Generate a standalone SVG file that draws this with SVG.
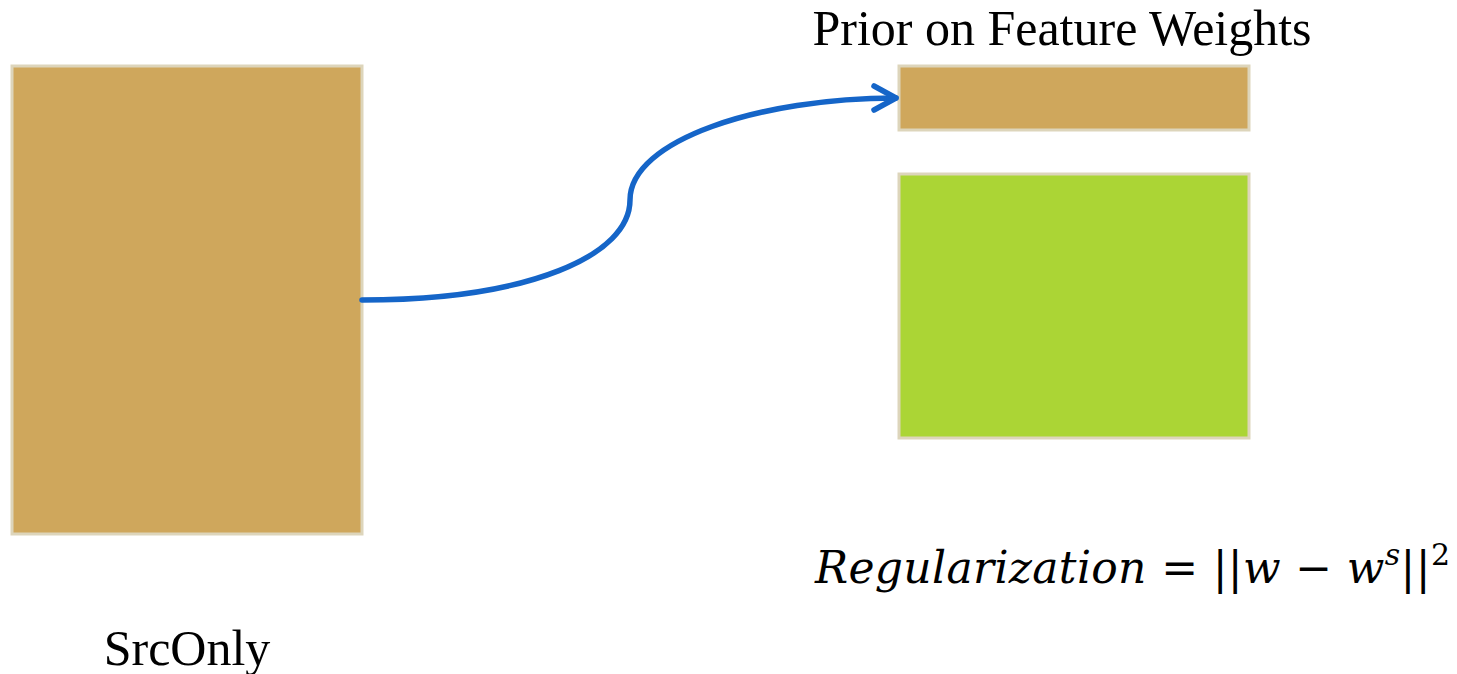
<svg xmlns="http://www.w3.org/2000/svg" width="1457" height="674" viewBox="0 0 1457 674">
<style>
.box{stroke:#ddd5bb;stroke-width:3}
.tan{fill:#cfa75c}
.green{fill:#abd535}
.lbl{font-family:"Liberation Serif",serif;font-size:50px;fill:#000}
.math{font-family:"DejaVu Serif","Liberation Serif",serif;font-size:44px;fill:#000}
.conn{fill:none;stroke:#1565c8;stroke-width:5.5;stroke-linecap:round;stroke-linejoin:round}
</style>
<rect width="1457" height="674" fill="#fff"/>
<g id="srconly">
<rect class="box tan" x="12" y="66" width="350" height="468"/>
<text class="lbl" x="187" y="665" text-anchor="middle">SrcOnly</text>
</g>
<g id="prior">
<rect class="box tan" x="899" y="66" width="350" height="64"/>
<text class="lbl" x="1062" y="45" text-anchor="middle">Prior on Feature Weights</text>
</g>
<g id="target">
<rect class="box green" x="899" y="174" width="350" height="264"/>
</g>
<g id="formula">
<text class="math" x="815" y="583" textLength="635" lengthAdjust="spacing"><tspan font-style="italic">Regularization</tspan> =  ||<tspan font-style="italic">w</tspan> − <tspan font-style="italic">w</tspan><tspan font-style="italic" font-size="30" dy="-18">s</tspan><tspan dy="18">||</tspan><tspan font-size="30" dy="-18">2</tspan></text>
</g>
<g id="connectors">
<path class="conn" d="M362,300 C530,300 630,255 630,200 C630,140 760,98 896,98"/>
<path class="conn" d="M874,86 L896,98 L874,110"/>
</g>
</svg>
